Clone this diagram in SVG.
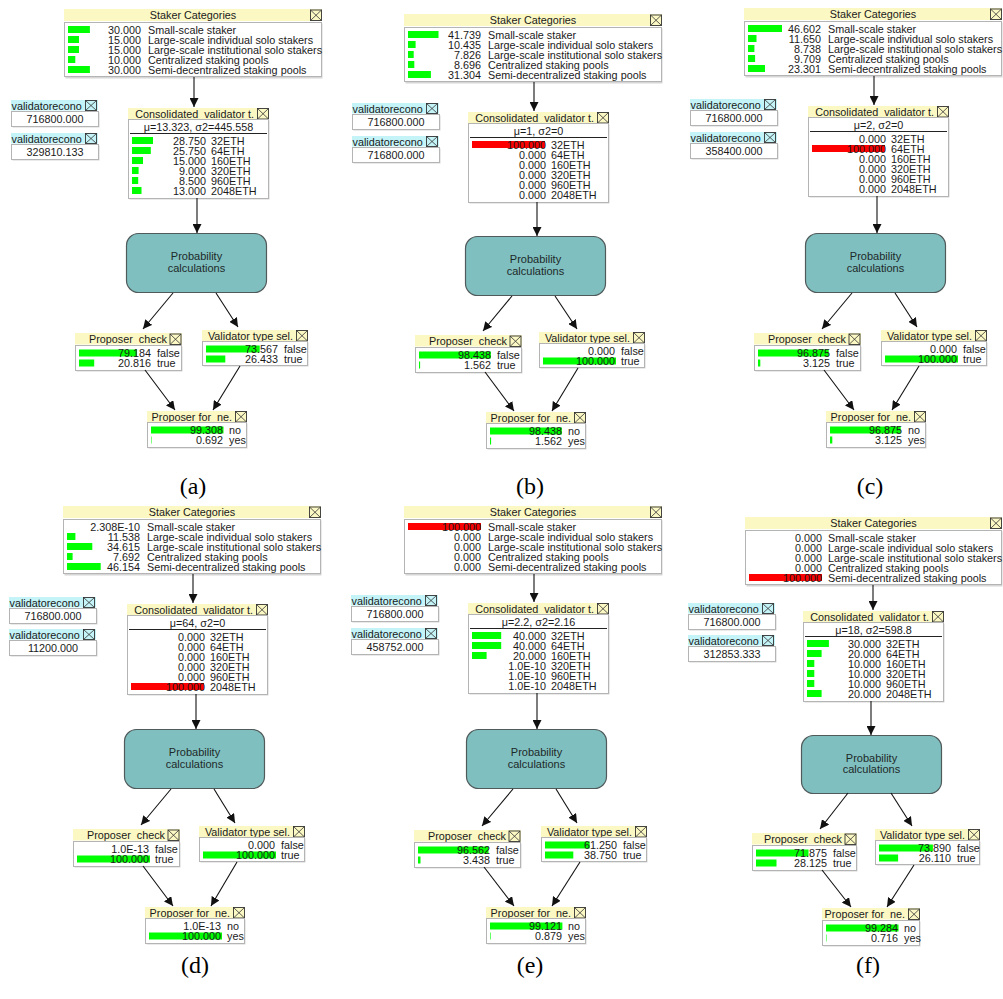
<svg xmlns="http://www.w3.org/2000/svg" xmlns:xlink="http://www.w3.org/1999/xlink" width="1003" height="999" viewBox="0 0 1003 999">
<style>
text{font-family:"Liberation Sans",Arial,sans-serif;font-size:10.8px;fill:#1a1a1a}
.m{text-anchor:middle}
.e{text-anchor:end}
.hdr{fill:#FBF8C4}
.hdc{fill:#C4F4F8}
.bd{fill:#fff;stroke:#B4B4B4;stroke-width:1}
.sh{fill:#D6D6D6}
.g{fill:#00FF00}
.r{fill:#FF0000}
.prob{fill:#80BFBF;stroke:#505A5A;stroke-width:1.2}
.pt{fill:#1d2a2a;font-size:11px}
.ln{stroke:#111;stroke-width:1.1;fill:none;marker-end:url(#ah)}
.cap{font-family:"Liberation Serif","Times New Roman",serif;font-size:24px;fill:#000;text-anchor:middle}
.mu{stroke:#222;stroke-width:1}
</style>
<defs>
<marker id="ah" viewBox="0 0 10 10" refX="10" refY="5" markerWidth="9" markerHeight="9" markerUnits="userSpaceOnUse" orient="auto"><path d="M0,0 L10,5 L0,10 z" fill="#111"/></marker>
<g id="xb"><rect x="0.5" y="0.5" width="11" height="10.5" fill="#FBF8C4" stroke="#333" stroke-width="0.9"/><path d="M0.5,0.5 L11.5,11 M11.5,0.5 L0.5,11" stroke="#333" stroke-width="0.8"/></g>
<g id="xbc"><rect x="0.5" y="0.5" width="11" height="10" fill="#C4F4F8" stroke="#333" stroke-width="0.9"/><path d="M0.5,0.5 L11.5,10.5 M11.5,0.5 L0.5,10.5" stroke="#333" stroke-width="0.8"/></g>
</defs>
<rect width="1003" height="999" fill="#fff"/>

<!-- ================= PANEL A ================= -->
<g id="a-staker" transform="translate(64,9)">
<rect class="hdr" width="258" height="12"/>
<text class="m" x="129" y="10">Staker Categories</text>
<use href="#xb" x="246" y="0.5"/>
<rect class="sh" x="1.5" y="14.5" width="257" height="55"/>
<rect class="bd" x="0.5" y="13.5" width="257" height="54"/>
<rect class="g" x="4" y="17" width="21.9" height="7"/><rect class="g" x="4" y="27" width="11" height="7"/><rect class="g" x="4" y="37" width="11" height="7"/><rect class="g" x="4" y="47" width="7.3" height="7"/><rect class="g" x="4" y="57" width="21.9" height="7"/>
<text class="e"><tspan x="77" y="25">30.000</tspan><tspan x="77" y="35">15.000</tspan><tspan x="77" y="45">15.000</tspan><tspan x="77" y="55">10.000</tspan><tspan x="77" y="65">30.000</tspan></text>
<text><tspan x="84" y="25">Small-scale staker</tspan><tspan x="84" y="35">Large-scale individual solo stakers</tspan><tspan x="84" y="45">Large-scale institutional solo stakers</tspan><tspan x="84" y="55">Centralized staking pools</tspan><tspan x="84" y="65">Semi-decentralized staking pools</tspan></text>
</g>
<g id="a-vr1" transform="translate(11,100)">
<rect class="hdc" width="87" height="10.5"/><text x="0.5" y="9.5">validatorecono</text><use href="#xbc" x="74" y="0"/>
<rect class="sh" x="1.5" y="12.5" width="87" height="15"/><rect class="bd" x="0.5" y="11.5" width="87" height="15"/><text class="m" x="44" y="23">716800.000</text>
</g>
<g id="a-vr2" transform="translate(11,133)">
<rect class="hdc" width="87" height="10.5"/><text x="0.5" y="9.5">validatorecono</text><use href="#xbc" x="74" y="0"/>
<rect class="sh" x="1.5" y="12.5" width="87" height="15"/><rect class="bd" x="0.5" y="11.5" width="87" height="15"/><text class="m" x="44" y="23">329810.133</text>
</g>
<g id="a-cons" transform="translate(128,108)">
<rect class="hdr" width="141" height="11"/><text class="e" x="126" y="9.5">Consolidated&#160; validator t.</text><use href="#xb" x="129" y="0"/>
<rect class="sh" x="1.5" y="12.5" width="140" height="79"/><rect class="bd" x="0.5" y="11.5" width="140" height="79"/>
<text class="m" x="70.5" y="23">μ=13.323, σ2=445.558</text><line class="mu" x1="2" y1="25.5" x2="139" y2="25.5"/>
<rect class="g" x="4" y="29" width="21" height="7"/><rect class="g" x="4" y="39" width="18.8" height="7"/><rect class="g" x="4" y="49" width="11" height="7"/><rect class="g" x="4" y="59" width="6.6" height="7"/><rect class="g" x="4" y="69" width="6.2" height="7"/><rect class="g" x="4" y="79" width="9.5" height="7"/>
<text class="e"><tspan x="78" y="37">28.750</tspan><tspan x="78" y="47">25.750</tspan><tspan x="78" y="57">15.000</tspan><tspan x="78" y="67">9.000</tspan><tspan x="78" y="77">8.500</tspan><tspan x="78" y="87">13.000</tspan></text>
<text><tspan x="83" y="37">32ETH</tspan><tspan x="83" y="47">64ETH</tspan><tspan x="83" y="57">160ETH</tspan><tspan x="83" y="67">320ETH</tspan><tspan x="83" y="77">960ETH</tspan><tspan x="83" y="87">2048ETH</tspan></text>
</g>
<g id="a-prob" transform="translate(126,233)">
<rect class="prob" x="0.5" y="0.5" width="140" height="59" rx="12"/><text class="m pt" x="70.5" y="27">Probability</text><text class="m pt" x="70.5" y="38.5">calculations</text>
</g>
<g id="a-pc" transform="translate(75,333)">
<rect class="hdr" width="107" height="11.5"/><text class="e" x="92" y="10">Proposer&#160; check</text><use href="#xb" x="94.5" y="0.5"/>
<rect class="sh" x="1.5" y="13.5" width="106" height="25"/><rect class="bd" x="0.5" y="12.5" width="106" height="25"/>
<rect class="g" x="4" y="16.5" width="57.8" height="7"/><rect class="g" x="4" y="26.5" width="15.2" height="7"/>
<text class="e"><tspan x="76" y="24">79.184</tspan><tspan x="76" y="34">20.816</tspan></text><text><tspan x="82" y="24">false</tspan><tspan x="82" y="34">true</tspan></text>
</g>
<g id="a-vt" transform="translate(202,330)">
<rect class="hdr" width="106" height="11"/><text class="e" x="91" y="9.5">Validator type sel.</text><use href="#xb" x="94" y="0"/>
<rect class="sh" x="1.5" y="12.5" width="105" height="24"/><rect class="bd" x="0.5" y="11.5" width="105" height="24"/>
<rect class="g" x="4" y="15.5" width="53.7" height="7"/><rect class="g" x="4" y="25.5" width="19.3" height="7"/>
<text class="e"><tspan x="76" y="23">73.567</tspan><tspan x="76" y="33">26.433</tspan></text><text><tspan x="82" y="23">false</tspan><tspan x="82" y="33">true</tspan></text>
</g>
<g id="a-pfn" transform="translate(147,411)">
<rect class="hdr" width="100" height="11"/><text class="e" x="85" y="9.5">Proposer for&#160; ne.</text><use href="#xb" x="88" y="0"/>
<rect class="sh" x="1.5" y="12.5" width="99" height="25"/><rect class="bd" x="0.5" y="11.5" width="99" height="25"/>
<rect class="g" x="4" y="15.5" width="72.5" height="7"/><rect class="g" x="4" y="25.5" width="0.5" height="7"/>
<text class="e"><tspan x="76" y="23">99.308</tspan><tspan x="76" y="33">0.692</tspan></text><text><tspan x="82" y="23">no</tspan><tspan x="82" y="33">yes</tspan></text>
</g>

<!-- ================= PANEL B ================= -->
<g id="b-staker" transform="translate(404,14)">
<rect class="hdr" width="258" height="12"/>
<text class="m" x="129" y="10">Staker Categories</text>
<use href="#xb" x="246" y="0.5"/>
<rect class="sh" x="1.5" y="14.5" width="257" height="55"/>
<rect class="bd" x="0.5" y="13.5" width="257" height="54"/>
<rect class="g" x="4" y="17" width="30.5" height="7"/><rect class="g" x="4" y="27" width="7.6" height="7"/><rect class="g" x="4" y="37" width="5.7" height="7"/><rect class="g" x="4" y="47" width="6.3" height="7"/><rect class="g" x="4" y="57" width="22.9" height="7"/>
<text class="e"><tspan x="77" y="25">41.739</tspan><tspan x="77" y="35">10.435</tspan><tspan x="77" y="45">7.826</tspan><tspan x="77" y="55">8.696</tspan><tspan x="77" y="65">31.304</tspan></text>
<text><tspan x="84" y="25">Small-scale staker</tspan><tspan x="84" y="35">Large-scale individual solo stakers</tspan><tspan x="84" y="45">Large-scale institutional solo stakers</tspan><tspan x="84" y="55">Centralized staking pools</tspan><tspan x="84" y="65">Semi-decentralized staking pools</tspan></text>
</g>
<g id="b-vr1" transform="translate(352,103)">
<rect class="hdc" width="87" height="10.5"/><text x="0.5" y="9.5">validatorecono</text><use href="#xbc" x="74" y="0"/>
<rect class="sh" x="1.5" y="12.5" width="87" height="15"/><rect class="bd" x="0.5" y="11.5" width="87" height="15"/><text class="m" x="44" y="23">716800.000</text>
</g>
<g id="b-vr2" transform="translate(352,136)">
<rect class="hdc" width="87" height="10.5"/><text x="0.5" y="9.5">validatorecono</text><use href="#xbc" x="74" y="0"/>
<rect class="sh" x="1.5" y="12.5" width="87" height="15"/><rect class="bd" x="0.5" y="11.5" width="87" height="15"/><text class="m" x="44" y="23">716800.000</text>
</g>
<g id="b-cons" transform="translate(468,112)">
<rect class="hdr" width="141" height="11"/><text class="e" x="126" y="9.5">Consolidated&#160; validator t.</text><use href="#xb" x="129" y="0"/>
<rect class="sh" x="1.5" y="12.5" width="140" height="79"/><rect class="bd" x="0.5" y="11.5" width="140" height="79"/>
<text class="m" x="70.5" y="23">μ=1, σ2=0</text><line class="mu" x1="2" y1="25.5" x2="139" y2="25.5"/>
<rect class="r" x="4" y="29" width="73" height="7"/>
<text class="e"><tspan x="78" y="37">100.000</tspan><tspan x="78" y="47">0.000</tspan><tspan x="78" y="57">0.000</tspan><tspan x="78" y="67">0.000</tspan><tspan x="78" y="77">0.000</tspan><tspan x="78" y="87">0.000</tspan></text>
<text><tspan x="83" y="37">32ETH</tspan><tspan x="83" y="47">64ETH</tspan><tspan x="83" y="57">160ETH</tspan><tspan x="83" y="67">320ETH</tspan><tspan x="83" y="77">960ETH</tspan><tspan x="83" y="87">2048ETH</tspan></text>
</g>
<g id="b-prob" transform="translate(465,236)">
<rect class="prob" x="0.5" y="0.5" width="140" height="59" rx="12"/><text class="m pt" x="70.5" y="27">Probability</text><text class="m pt" x="70.5" y="38.5">calculations</text>
</g>
<g id="b-pc" transform="translate(415,335)">
<rect class="hdr" width="107" height="11.5"/><text class="e" x="92" y="10">Proposer&#160; check</text><use href="#xb" x="94.5" y="0.5"/>
<rect class="sh" x="1.5" y="13.5" width="106" height="25"/><rect class="bd" x="0.5" y="12.5" width="106" height="25"/>
<rect class="g" x="4" y="16.5" width="71.9" height="7"/><rect class="g" x="4" y="26.5" width="1.1" height="7"/>
<text class="e"><tspan x="76" y="24">98.438</tspan><tspan x="76" y="34">1.562</tspan></text><text><tspan x="82" y="24">false</tspan><tspan x="82" y="34">true</tspan></text>
</g>
<g id="b-vt" transform="translate(539,332)">
<rect class="hdr" width="106" height="11"/><text class="e" x="91" y="9.5">Validator type sel.</text><use href="#xb" x="94" y="0"/>
<rect class="sh" x="1.5" y="12.5" width="105" height="24"/><rect class="bd" x="0.5" y="11.5" width="105" height="24"/>
<rect class="g" x="4" y="25.5" width="73" height="7"/>
<text class="e"><tspan x="76" y="23">0.000</tspan><tspan x="76" y="33">100.000</tspan></text><text><tspan x="82" y="23">false</tspan><tspan x="82" y="33">true</tspan></text>
</g>
<g id="b-pfn" transform="translate(486,412)">
<rect class="hdr" width="100" height="11"/><text class="e" x="85" y="9.5">Proposer for&#160; ne.</text><use href="#xb" x="88" y="0"/>
<rect class="sh" x="1.5" y="12.5" width="99" height="25"/><rect class="bd" x="0.5" y="11.5" width="99" height="25"/>
<rect class="g" x="4" y="15.5" width="71.9" height="7"/><rect class="g" x="4" y="25.5" width="1.1" height="7"/>
<text class="e"><tspan x="76" y="23">98.438</tspan><tspan x="76" y="33">1.562</tspan></text><text><tspan x="82" y="23">no</tspan><tspan x="82" y="33">yes</tspan></text>
</g>

<!-- ================= PANEL C ================= -->
<g id="c-staker" transform="translate(744,8)">
<rect class="hdr" width="258" height="12"/>
<text class="m" x="129" y="10">Staker Categories</text>
<use href="#xb" x="246" y="0.5"/>
<rect class="sh" x="1.5" y="14.5" width="257" height="55"/>
<rect class="bd" x="0.5" y="13.5" width="257" height="54"/>
<rect class="g" x="4" y="17" width="34" height="7"/><rect class="g" x="4" y="27" width="8.5" height="7"/><rect class="g" x="4" y="37" width="6.4" height="7"/><rect class="g" x="4" y="47" width="7.1" height="7"/><rect class="g" x="4" y="57" width="17" height="7"/>
<text class="e"><tspan x="77" y="25">46.602</tspan><tspan x="77" y="35">11.650</tspan><tspan x="77" y="45">8.738</tspan><tspan x="77" y="55">9.709</tspan><tspan x="77" y="65">23.301</tspan></text>
<text><tspan x="84" y="25">Small-scale staker</tspan><tspan x="84" y="35">Large-scale individual solo stakers</tspan><tspan x="84" y="45">Large-scale institutional solo stakers</tspan><tspan x="84" y="55">Centralized staking pools</tspan><tspan x="84" y="65">Semi-decentralized staking pools</tspan></text>
</g>
<g id="c-vr1" transform="translate(690,99)">
<rect class="hdc" width="87" height="10.5"/><text x="0.5" y="9.5">validatorecono</text><use href="#xbc" x="74" y="0"/>
<rect class="sh" x="1.5" y="12.5" width="87" height="15"/><rect class="bd" x="0.5" y="11.5" width="87" height="15"/><text class="m" x="44" y="23">716800.000</text>
</g>
<g id="c-vr2" transform="translate(690,132)">
<rect class="hdc" width="87" height="10.5"/><text x="0.5" y="9.5">validatorecono</text><use href="#xbc" x="74" y="0"/>
<rect class="sh" x="1.5" y="12.5" width="87" height="15"/><rect class="bd" x="0.5" y="11.5" width="87" height="15"/><text class="m" x="44" y="23">358400.000</text>
</g>
<g id="c-cons" transform="translate(808,106)">
<rect class="hdr" width="141" height="11"/><text class="e" x="126" y="9.5">Consolidated&#160; validator t.</text><use href="#xb" x="129" y="0"/>
<rect class="sh" x="1.5" y="12.5" width="140" height="79"/><rect class="bd" x="0.5" y="11.5" width="140" height="79"/>
<text class="m" x="70.5" y="23">μ=2, σ2=0</text><line class="mu" x1="2" y1="25.5" x2="139" y2="25.5"/>
<rect class="r" x="4" y="39" width="73" height="7"/>
<text class="e"><tspan x="78" y="37">0.000</tspan><tspan x="78" y="47">100.000</tspan><tspan x="78" y="57">0.000</tspan><tspan x="78" y="67">0.000</tspan><tspan x="78" y="77">0.000</tspan><tspan x="78" y="87">0.000</tspan></text>
<text><tspan x="83" y="37">32ETH</tspan><tspan x="83" y="47">64ETH</tspan><tspan x="83" y="57">160ETH</tspan><tspan x="83" y="67">320ETH</tspan><tspan x="83" y="77">960ETH</tspan><tspan x="83" y="87">2048ETH</tspan></text>
</g>
<g id="c-prob" transform="translate(805,233)">
<rect class="prob" x="0.5" y="0.5" width="140" height="59" rx="12"/><text class="m pt" x="70.5" y="27">Probability</text><text class="m pt" x="70.5" y="38.5">calculations</text>
</g>
<g id="c-pc" transform="translate(754,333)">
<rect class="hdr" width="107" height="11.5"/><text class="e" x="92" y="10">Proposer&#160; check</text><use href="#xb" x="94.5" y="0.5"/>
<rect class="sh" x="1.5" y="13.5" width="106" height="25"/><rect class="bd" x="0.5" y="12.5" width="106" height="25"/>
<rect class="g" x="4" y="16.5" width="70.7" height="7"/><rect class="g" x="4" y="26.5" width="2.3" height="7"/>
<text class="e"><tspan x="76" y="24">96.875</tspan><tspan x="76" y="34">3.125</tspan></text><text><tspan x="82" y="24">false</tspan><tspan x="82" y="34">true</tspan></text>
</g>
<g id="c-vt" transform="translate(881,330)">
<rect class="hdr" width="106" height="11"/><text class="e" x="91" y="9.5">Validator type sel.</text><use href="#xb" x="94" y="0"/>
<rect class="sh" x="1.5" y="12.5" width="105" height="24"/><rect class="bd" x="0.5" y="11.5" width="105" height="24"/>
<rect class="g" x="4" y="25.5" width="73" height="7"/>
<text class="e"><tspan x="76" y="23">0.000</tspan><tspan x="76" y="33">100.000</tspan></text><text><tspan x="82" y="23">false</tspan><tspan x="82" y="33">true</tspan></text>
</g>
<g id="c-pfn" transform="translate(826,411)">
<rect class="hdr" width="100" height="11"/><text class="e" x="85" y="9.5">Proposer for&#160; ne.</text><use href="#xb" x="88" y="0"/>
<rect class="sh" x="1.5" y="12.5" width="99" height="25"/><rect class="bd" x="0.5" y="11.5" width="99" height="25"/>
<rect class="g" x="4" y="15.5" width="70.7" height="7"/><rect class="g" x="4" y="25.5" width="2.3" height="7"/>
<text class="e"><tspan x="76" y="23">96.875</tspan><tspan x="76" y="33">3.125</tspan></text><text><tspan x="82" y="23">no</tspan><tspan x="82" y="33">yes</tspan></text>
</g>

<!-- ================= PANEL D ================= -->
<g id="d-staker" transform="translate(63,506)">
<rect class="hdr" width="258" height="12"/>
<text class="m" x="129" y="10">Staker Categories</text>
<use href="#xb" x="246" y="0.5"/>
<rect class="sh" x="1.5" y="14.5" width="257" height="55"/>
<rect class="bd" x="0.5" y="13.5" width="257" height="54"/>
<rect class="g" x="4" y="27" width="8.4" height="7"/><rect class="g" x="4" y="37" width="25.3" height="7"/><rect class="g" x="4" y="47" width="5.6" height="7"/><rect class="g" x="4" y="57" width="33.7" height="7"/>
<text class="e"><tspan x="77" y="25">2.308E-10</tspan><tspan x="77" y="35">11.538</tspan><tspan x="77" y="45">34.615</tspan><tspan x="77" y="55">7.692</tspan><tspan x="77" y="65">46.154</tspan></text>
<text><tspan x="84" y="25">Small-scale staker</tspan><tspan x="84" y="35">Large-scale individual solo stakers</tspan><tspan x="84" y="45">Large-scale institutional solo stakers</tspan><tspan x="84" y="55">Centralized staking pools</tspan><tspan x="84" y="65">Semi-decentralized staking pools</tspan></text>
</g>
<g id="d-vr1" transform="translate(9,597)">
<rect class="hdc" width="87" height="10.5"/><text x="0.5" y="9.5">validatorecono</text><use href="#xbc" x="74" y="0"/>
<rect class="sh" x="1.5" y="12.5" width="87" height="15"/><rect class="bd" x="0.5" y="11.5" width="87" height="15"/><text class="m" x="44" y="23">716800.000</text>
</g>
<g id="d-vr2" transform="translate(9,629)">
<rect class="hdc" width="87" height="10.5"/><text x="0.5" y="9.5">validatorecono</text><use href="#xbc" x="74" y="0"/>
<rect class="sh" x="1.5" y="12.5" width="87" height="15"/><rect class="bd" x="0.5" y="11.5" width="87" height="15"/><text class="m" x="44" y="23">11200.000</text>
</g>
<g id="d-cons" transform="translate(127,604)">
<rect class="hdr" width="141" height="11"/><text class="e" x="126" y="9.5">Consolidated&#160; validator t.</text><use href="#xb" x="129" y="0"/>
<rect class="sh" x="1.5" y="12.5" width="140" height="79"/><rect class="bd" x="0.5" y="11.5" width="140" height="79"/>
<text class="m" x="70.5" y="23">μ=64, σ2=0</text><line class="mu" x1="2" y1="25.5" x2="139" y2="25.5"/>
<rect class="r" x="4" y="79" width="73" height="7"/>
<text class="e"><tspan x="78" y="37">0.000</tspan><tspan x="78" y="47">0.000</tspan><tspan x="78" y="57">0.000</tspan><tspan x="78" y="67">0.000</tspan><tspan x="78" y="77">0.000</tspan><tspan x="78" y="87">100.000</tspan></text>
<text><tspan x="83" y="37">32ETH</tspan><tspan x="83" y="47">64ETH</tspan><tspan x="83" y="57">160ETH</tspan><tspan x="83" y="67">320ETH</tspan><tspan x="83" y="77">960ETH</tspan><tspan x="83" y="87">2048ETH</tspan></text>
</g>
<g id="d-prob" transform="translate(124,729)">
<rect class="prob" x="0.5" y="0.5" width="140" height="59" rx="12"/><text class="m pt" x="70.5" y="27">Probability</text><text class="m pt" x="70.5" y="38.5">calculations</text>
</g>
<g id="d-pc" transform="translate(73,829)">
<rect class="hdr" width="107" height="11.5"/><text class="e" x="92" y="10">Proposer&#160; check</text><use href="#xb" x="94.5" y="0.5"/>
<rect class="sh" x="1.5" y="13.5" width="106" height="25"/><rect class="bd" x="0.5" y="12.5" width="106" height="25"/>
<rect class="g" x="4" y="26.5" width="73" height="7"/>
<text class="e"><tspan x="76" y="24">1.0E-13</tspan><tspan x="76" y="34">100.000</tspan></text><text><tspan x="82" y="24">false</tspan><tspan x="82" y="34">true</tspan></text>
</g>
<g id="d-vt" transform="translate(199,826)">
<rect class="hdr" width="106" height="11"/><text class="e" x="91" y="9.5">Validator type sel.</text><use href="#xb" x="94" y="0"/>
<rect class="sh" x="1.5" y="12.5" width="105" height="24"/><rect class="bd" x="0.5" y="11.5" width="105" height="24"/>
<rect class="g" x="4" y="25.5" width="73" height="7"/>
<text class="e"><tspan x="76" y="23">0.000</tspan><tspan x="76" y="33">100.000</tspan></text><text><tspan x="82" y="23">false</tspan><tspan x="82" y="33">true</tspan></text>
</g>
<g id="d-pfn" transform="translate(145,907)">
<rect class="hdr" width="100" height="11"/><text class="e" x="85" y="9.5">Proposer for&#160; ne.</text><use href="#xb" x="88" y="0"/>
<rect class="sh" x="1.5" y="12.5" width="99" height="25"/><rect class="bd" x="0.5" y="11.5" width="99" height="25"/>
<rect class="g" x="4" y="25.5" width="73" height="7"/>
<text class="e"><tspan x="76" y="23">1.0E-13</tspan><tspan x="76" y="33">100.000</tspan></text><text><tspan x="82" y="23">no</tspan><tspan x="82" y="33">yes</tspan></text>
</g>

<!-- ================= PANEL E ================= -->
<g id="e-staker" transform="translate(404,506)">
<rect class="hdr" width="258" height="12"/>
<text class="m" x="129" y="10">Staker Categories</text>
<use href="#xb" x="246" y="0.5"/>
<rect class="sh" x="1.5" y="14.5" width="257" height="55"/>
<rect class="bd" x="0.5" y="13.5" width="257" height="54"/>
<rect class="r" x="4" y="17" width="73" height="7"/>
<text class="e"><tspan x="77" y="25">100.000</tspan><tspan x="77" y="35">0.000</tspan><tspan x="77" y="45">0.000</tspan><tspan x="77" y="55">0.000</tspan><tspan x="77" y="65">0.000</tspan></text>
<text><tspan x="84" y="25">Small-scale staker</tspan><tspan x="84" y="35">Large-scale individual solo stakers</tspan><tspan x="84" y="45">Large-scale institutional solo stakers</tspan><tspan x="84" y="55">Centralized staking pools</tspan><tspan x="84" y="65">Semi-decentralized staking pools</tspan></text>
</g>
<g id="e-vr1" transform="translate(351,595)">
<rect class="hdc" width="87" height="10.5"/><text x="0.5" y="9.5">validatorecono</text><use href="#xbc" x="74" y="0"/>
<rect class="sh" x="1.5" y="12.5" width="87" height="15"/><rect class="bd" x="0.5" y="11.5" width="87" height="15"/><text class="m" x="44" y="23">716800.000</text>
</g>
<g id="e-vr2" transform="translate(351,628)">
<rect class="hdc" width="87" height="10.5"/><text x="0.5" y="9.5">validatorecono</text><use href="#xbc" x="74" y="0"/>
<rect class="sh" x="1.5" y="12.5" width="87" height="15"/><rect class="bd" x="0.5" y="11.5" width="87" height="15"/><text class="m" x="44" y="23">458752.000</text>
</g>
<g id="e-cons" transform="translate(468,603)">
<rect class="hdr" width="141" height="11"/><text class="e" x="126" y="9.5">Consolidated&#160; validator t.</text><use href="#xb" x="129" y="0"/>
<rect class="sh" x="1.5" y="12.5" width="140" height="79"/><rect class="bd" x="0.5" y="11.5" width="140" height="79"/>
<text class="m" x="70.5" y="23">μ=2.2, σ2=2.16</text><line class="mu" x1="2" y1="25.5" x2="139" y2="25.5"/>
<rect class="g" x="4" y="29" width="29.2" height="7"/><rect class="g" x="4" y="39" width="29.2" height="7"/><rect class="g" x="4" y="49" width="14.6" height="7"/>
<text class="e"><tspan x="78" y="37">40.000</tspan><tspan x="78" y="47">40.000</tspan><tspan x="78" y="57">20.000</tspan><tspan x="78" y="67">1.0E-10</tspan><tspan x="78" y="77">1.0E-10</tspan><tspan x="78" y="87">1.0E-10</tspan></text>
<text><tspan x="83" y="37">32ETH</tspan><tspan x="83" y="47">64ETH</tspan><tspan x="83" y="57">160ETH</tspan><tspan x="83" y="67">320ETH</tspan><tspan x="83" y="77">960ETH</tspan><tspan x="83" y="87">2048ETH</tspan></text>
</g>
<g id="e-prob" transform="translate(466,729)">
<rect class="prob" x="0.5" y="0.5" width="140" height="59" rx="12"/><text class="m pt" x="70.5" y="27">Probability</text><text class="m pt" x="70.5" y="38.5">calculations</text>
</g>
<g id="e-pc" transform="translate(414,830)">
<rect class="hdr" width="107" height="11.5"/><text class="e" x="92" y="10">Proposer&#160; check</text><use href="#xb" x="94.5" y="0.5"/>
<rect class="sh" x="1.5" y="13.5" width="106" height="25"/><rect class="bd" x="0.5" y="12.5" width="106" height="25"/>
<rect class="g" x="4" y="16.5" width="70.5" height="7"/><rect class="g" x="4" y="26.5" width="2.5" height="7"/>
<text class="e"><tspan x="76" y="24">96.562</tspan><tspan x="76" y="34">3.438</tspan></text><text><tspan x="82" y="24">false</tspan><tspan x="82" y="34">true</tspan></text>
</g>
<g id="e-vt" transform="translate(541,826)">
<rect class="hdr" width="106" height="11"/><text class="e" x="91" y="9.5">Validator type sel.</text><use href="#xb" x="94" y="0"/>
<rect class="sh" x="1.5" y="12.5" width="105" height="24"/><rect class="bd" x="0.5" y="11.5" width="105" height="24"/>
<rect class="g" x="4" y="15.5" width="44.7" height="7"/><rect class="g" x="4" y="25.5" width="28.3" height="7"/>
<text class="e"><tspan x="76" y="23">61.250</tspan><tspan x="76" y="33">38.750</tspan></text><text><tspan x="82" y="23">false</tspan><tspan x="82" y="33">true</tspan></text>
</g>
<g id="e-pfn" transform="translate(486,907)">
<rect class="hdr" width="100" height="11"/><text class="e" x="85" y="9.5">Proposer for&#160; ne.</text><use href="#xb" x="88" y="0"/>
<rect class="sh" x="1.5" y="12.5" width="99" height="25"/><rect class="bd" x="0.5" y="11.5" width="99" height="25"/>
<rect class="g" x="4" y="15.5" width="72.4" height="7"/><rect class="g" x="4" y="25.5" width="0.6" height="7"/>
<text class="e"><tspan x="76" y="23">99.121</tspan><tspan x="76" y="33">0.879</tspan></text><text><tspan x="82" y="23">no</tspan><tspan x="82" y="33">yes</tspan></text>
</g>

<!-- ================= PANEL F ================= -->
<g id="f-staker" transform="translate(745,517)">
<rect class="hdr" width="257" height="12"/>
<text class="m" x="128.5" y="10">Staker Categories</text>
<use href="#xb" x="245" y="0.5"/>
<rect class="sh" x="1.5" y="14.5" width="256" height="55"/>
<rect class="bd" x="0.5" y="13.5" width="256" height="54"/>
<rect class="r" x="4" y="57" width="73" height="7"/>
<text class="e"><tspan x="77" y="25">0.000</tspan><tspan x="77" y="35">0.000</tspan><tspan x="77" y="45">0.000</tspan><tspan x="77" y="55">0.000</tspan><tspan x="77" y="65">100.000</tspan></text>
<text><tspan x="83" y="25">Small-scale staker</tspan><tspan x="83" y="35">Large-scale individual solo stakers</tspan><tspan x="83" y="45">Large-scale institutional solo stakers</tspan><tspan x="83" y="55">Centralized staking pools</tspan><tspan x="83" y="65">Semi-decentralized staking pools</tspan></text>
</g>
<g id="f-vr1" transform="translate(688,603)">
<rect class="hdc" width="87" height="10.5"/><text x="0.5" y="9.5">validatorecono</text><use href="#xbc" x="74" y="0"/>
<rect class="sh" x="1.5" y="12.5" width="87" height="15"/><rect class="bd" x="0.5" y="11.5" width="87" height="15"/><text class="m" x="44" y="23">716800.000</text>
</g>
<g id="f-vr2" transform="translate(688,635)">
<rect class="hdc" width="87" height="10.5"/><text x="0.5" y="9.5">validatorecono</text><use href="#xbc" x="74" y="0"/>
<rect class="sh" x="1.5" y="12.5" width="87" height="15"/><rect class="bd" x="0.5" y="11.5" width="87" height="15"/><text class="m" x="44" y="23">312853.333</text>
</g>
<g id="f-cons" transform="translate(803,611)">
<rect class="hdr" width="141" height="11"/><text class="e" x="126" y="9.5">Consolidated&#160; validator t.</text><use href="#xb" x="129" y="0"/>
<rect class="sh" x="1.5" y="12.5" width="140" height="79"/><rect class="bd" x="0.5" y="11.5" width="140" height="79"/>
<text class="m" x="70.5" y="23">μ=18, σ2=598.8</text><line class="mu" x1="2" y1="25.5" x2="139" y2="25.5"/>
<rect class="g" x="4" y="29" width="21.9" height="7"/><rect class="g" x="4" y="39" width="14.6" height="7"/><rect class="g" x="4" y="49" width="7.3" height="7"/><rect class="g" x="4" y="59" width="7.3" height="7"/><rect class="g" x="4" y="69" width="7.3" height="7"/><rect class="g" x="4" y="79" width="14.6" height="7"/>
<text class="e"><tspan x="78" y="37">30.000</tspan><tspan x="78" y="47">20.000</tspan><tspan x="78" y="57">10.000</tspan><tspan x="78" y="67">10.000</tspan><tspan x="78" y="77">10.000</tspan><tspan x="78" y="87">20.000</tspan></text>
<text><tspan x="83" y="37">32ETH</tspan><tspan x="83" y="47">64ETH</tspan><tspan x="83" y="57">160ETH</tspan><tspan x="83" y="67">320ETH</tspan><tspan x="83" y="77">960ETH</tspan><tspan x="83" y="87">2048ETH</tspan></text>
</g>
<g id="f-prob" transform="translate(801,735)">
<rect class="prob" x="0.5" y="0.5" width="140" height="58" rx="12"/><text class="m pt" x="70.5" y="26.5">Probability</text><text class="m pt" x="70.5" y="38">calculations</text>
</g>
<g id="f-pc" transform="translate(752,833)">
<rect class="hdr" width="105" height="11.5"/><text class="e" x="90" y="10">Proposer&#160; check</text><use href="#xb" x="92.5" y="0.5"/>
<rect class="sh" x="1.5" y="13.5" width="104" height="25"/><rect class="bd" x="0.5" y="12.5" width="104" height="25"/>
<rect class="g" x="4" y="16.5" width="52.5" height="7"/><rect class="g" x="4" y="26.5" width="20.5" height="7"/>
<text class="e"><tspan x="75" y="24">71.875</tspan><tspan x="75" y="34">28.125</tspan></text><text><tspan x="81" y="24">false</tspan><tspan x="81" y="34">true</tspan></text>
</g>
<g id="f-vt" transform="translate(875,829)">
<rect class="hdr" width="105" height="11"/><text class="e" x="90" y="9.5">Validator type sel.</text><use href="#xb" x="93" y="0"/>
<rect class="sh" x="1.5" y="12.5" width="104" height="24"/><rect class="bd" x="0.5" y="11.5" width="104" height="24"/>
<rect class="g" x="4" y="15.5" width="53.9" height="7"/><rect class="g" x="4" y="25.5" width="19.1" height="7"/>
<text class="e"><tspan x="76" y="23">73.890</tspan><tspan x="76" y="33">26.110</tspan></text><text><tspan x="82" y="23">false</tspan><tspan x="82" y="33">true</tspan></text>
</g>
<g id="f-pfn" transform="translate(822,908)">
<rect class="hdr" width="98" height="11.5"/><text class="e" x="83" y="10">Proposer for&#160; ne.</text><use href="#xb" x="86" y="0.5"/>
<rect class="sh" x="1.5" y="13.5" width="97" height="25"/><rect class="bd" x="0.5" y="12.5" width="97" height="25"/>
<rect class="g" x="4" y="16.5" width="72.5" height="7"/><rect class="g" x="4" y="26.5" width="0.5" height="7"/>
<text class="e"><tspan x="76" y="24">99.284</tspan><tspan x="76" y="34">0.716</tspan></text><text><tspan x="82" y="24">no</tspan><tspan x="82" y="34">yes</tspan></text>
</g>

<!-- ================= CONNECTORS ================= -->
<g id="connectors">
<path class="ln" d="M194,77 L194,107"/>
<path class="ln" d="M197,198 L197,233"/>
<path class="ln" d="M173,293 L143,329"/>
<path class="ln" d="M216,293 L238,327"/>
<path class="ln" d="M145,370 L175,410"/>
<path class="ln" d="M240,366 L213,410"/>

<path class="ln" d="M534,82 L534,111"/>
<path class="ln" d="M537,202 L537,236"/>
<path class="ln" d="M512,296 L483,331"/>
<path class="ln" d="M555,296 L577,329"/>
<path class="ln" d="M485,372 L514,411"/>
<path class="ln" d="M578,368 L552,411"/>

<path class="ln" d="M874,76 L874,105"/>
<path class="ln" d="M877,196 L877,233"/>
<path class="ln" d="M852,293 L822,329"/>
<path class="ln" d="M895,293 L917,327"/>
<path class="ln" d="M824,370 L854,410"/>
<path class="ln" d="M919,366 L892,410"/>

<path class="ln" d="M193,574 L193,603"/>
<path class="ln" d="M196,694 L196,729"/>
<path class="ln" d="M171,789 L141,825"/>
<path class="ln" d="M214,789 L235,823"/>
<path class="ln" d="M143,866 L173,906"/>
<path class="ln" d="M237,862 L211,906"/>

<path class="ln" d="M534,574 L534,602"/>
<path class="ln" d="M537,693 L537,729"/>
<path class="ln" d="M513,789 L482,826"/>
<path class="ln" d="M556,789 L577,823"/>
<path class="ln" d="M484,867 L514,906"/>
<path class="ln" d="M580,862 L552,906"/>

<path class="ln" d="M873,585 L873,610"/>
<path class="ln" d="M871,701 L871,735"/>
<path class="ln" d="M848,793 L820,829"/>
<path class="ln" d="M891,793 L912,826"/>
<path class="ln" d="M822,870 L851,907"/>
<path class="ln" d="M914,865 L887,907"/>
</g>

<g id="captions">
<text class="cap" x="193" y="494">(a)</text>
<text class="cap" x="530" y="494">(b)</text>
<text class="cap" x="870" y="494">(c)</text>
<text class="cap" x="195" y="973">(d)</text>
<text class="cap" x="530" y="973">(e)</text>
<text class="cap" x="868" y="973">(f)</text>
</g>
</svg>
